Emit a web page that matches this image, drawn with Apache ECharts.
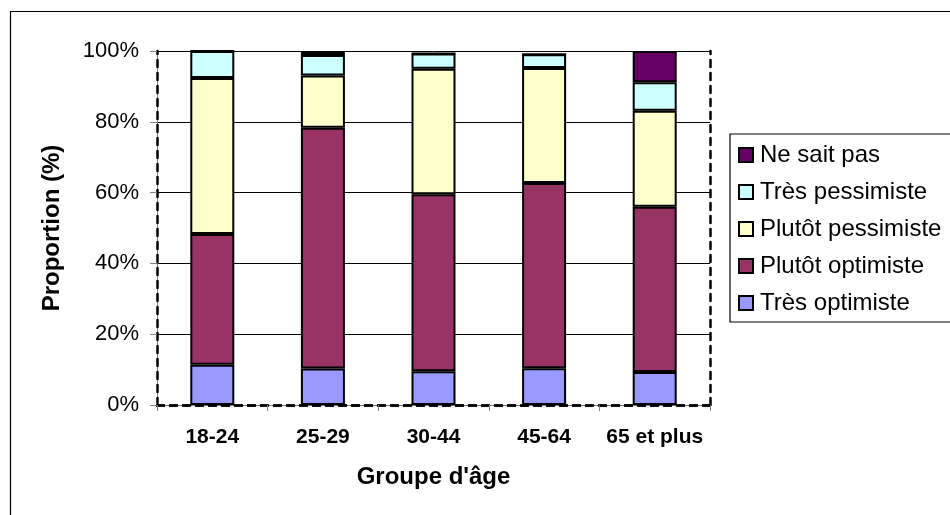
<!DOCTYPE html>
<html>
<head>
<meta charset="utf-8">
<script src="https://cdn.jsdelivr.net/npm/echarts@6/dist/echarts.min.js"></script>
<style>
html,body{margin:0;padding:0;background:#fff;}
#chart{width:950px;height:515px;}
</style>
</head>
<body>
<div id="chart"></div>
<script>
const categories = ['18-24', '25-29', '30-44', '45-64', '65 et plus'];
const tresOptimiste = [11.4, 10.3, 9.5, 10.4, 9.3];
const plutotOptimiste = [36.9, 68.0, 50.0, 52.3, 46.7];
const plutotPessimiste = [44.1, 14.8, 35.5, 32.5, 27.1];
const tresPessimiste = [7.6, 5.8, 4.3, 3.9, 8.1];
const neSaitPas = [0, 1.1, 0, 0, 8.8];
const seriesNames = ['Très optimiste', 'Plutôt optimiste', 'Plutôt pessimiste', 'Très pessimiste', 'Ne sait pas'];
const seriesValues = [tresOptimiste, plutotOptimiste, plutotPessimiste, tresPessimiste, neSaitPas];
const seriesColors = ['#9999FF', '#993366', '#FFFFCC', '#CCFFFF', '#660066'];
const yTicks = [0, 20, 40, 60, 80, 100];

const FONT = 'Liberation Sans, Arial, sans-serif';
const dashed = { color: '#000', width: 2.5, type: [7, 6] };

const chart = echarts.init(document.getElementById('chart'));
const option = {
  animation: false,
  backgroundColor: '#fff',
  textStyle: { fontFamily: FONT },
  graphic: [{
    type: 'rect', left: 8, top: 9,
    shape: { width: 1000, height: 1000 },
    style: { fill: 'none', stroke: '#000', lineWidth: 1.2 },
    z: -10
  }],
  grid: { left: 157, right: 240, top: 51, bottom: 110 },
  legend: {
    orient: 'vertical',
    left: 730, top: 134,
    padding: [9, 60, 7, 8],
    borderColor: '#000', borderWidth: 1.2,
    itemWidth: 14, itemHeight: 14, itemGap: 13,
    icon: 'rect',
    data: seriesNames.slice().reverse(),
    textStyle: { fontFamily: FONT, fontSize: 24, color: '#000', lineHeight: 22, padding: [0, 0, 0, 2] }
  },
  xAxis: [
    {
      type: 'category', data: categories, position: 'bottom',
      axisLine: { lineStyle: { color: '#808080', width: 1 } },
      axisTick: { show: true, length: 6, lineStyle: { color: '#808080' } },
      axisLabel: { color: '#000', fontSize: 21, fontWeight: 'bold', fontFamily: FONT, margin: 22, interval: 0 },
      name: "Groupe d'âge", nameLocation: 'middle', nameGap: 60,
      nameTextStyle: { color: '#000', fontSize: 24, fontWeight: 'bold', fontFamily: FONT }
    },
    {
      type: 'category', data: categories, position: 'top',
      axisLine: { lineStyle: dashed }, axisTick: { show: false }, axisLabel: { show: false }
    },
    {
      type: 'category', data: categories, position: 'bottom',
      axisLine: { lineStyle: dashed }, axisTick: { show: false }, axisLabel: { show: false }
    }
  ],
  yAxis: [
    {
      type: 'value', min: yTicks[0], max: yTicks[yTicks.length - 1], interval: 20, position: 'left',
      axisLine: { show: true, lineStyle: { color: '#808080', width: 1 } },
      axisTick: { show: true, length: 7, lineStyle: { color: '#808080' } },
      axisLabel: { color: '#000', fontSize: 22, fontFamily: FONT, margin: 18, formatter: '{value}%' },
      splitLine: { show: true, lineStyle: { color: '#000', width: 1 } },
      name: 'Proportion (%)', nameLocation: 'middle', nameGap: 93, nameRotate: 90,
      nameTextStyle: { color: '#000', fontSize: 24, fontWeight: 'bold', fontFamily: FONT }
    },
    {
      type: 'value', min: 0, max: 100, interval: 20, position: 'right',
      axisLine: { show: true, lineStyle: dashed }, axisTick: { show: false },
      axisLabel: { show: false }, splitLine: { show: false }
    },
    {
      type: 'value', min: 0, max: 100, interval: 20, position: 'left',
      axisLine: { show: true, lineStyle: dashed }, axisTick: { show: false },
      axisLabel: { show: false }, splitLine: { show: false }
    }
  ],
  series: seriesNames.map((name, i) => ({
    name: name,
    type: 'bar',
    stack: 'total',
    xAxisIndex: 0, yAxisIndex: 0,
    barWidth: 44,
    data: seriesValues[i],
    itemStyle: { color: seriesColors[i], borderColor: '#000', borderWidth: 2 }
  }))
};
chart.setOption(option);
</script>
</body>
</html>
